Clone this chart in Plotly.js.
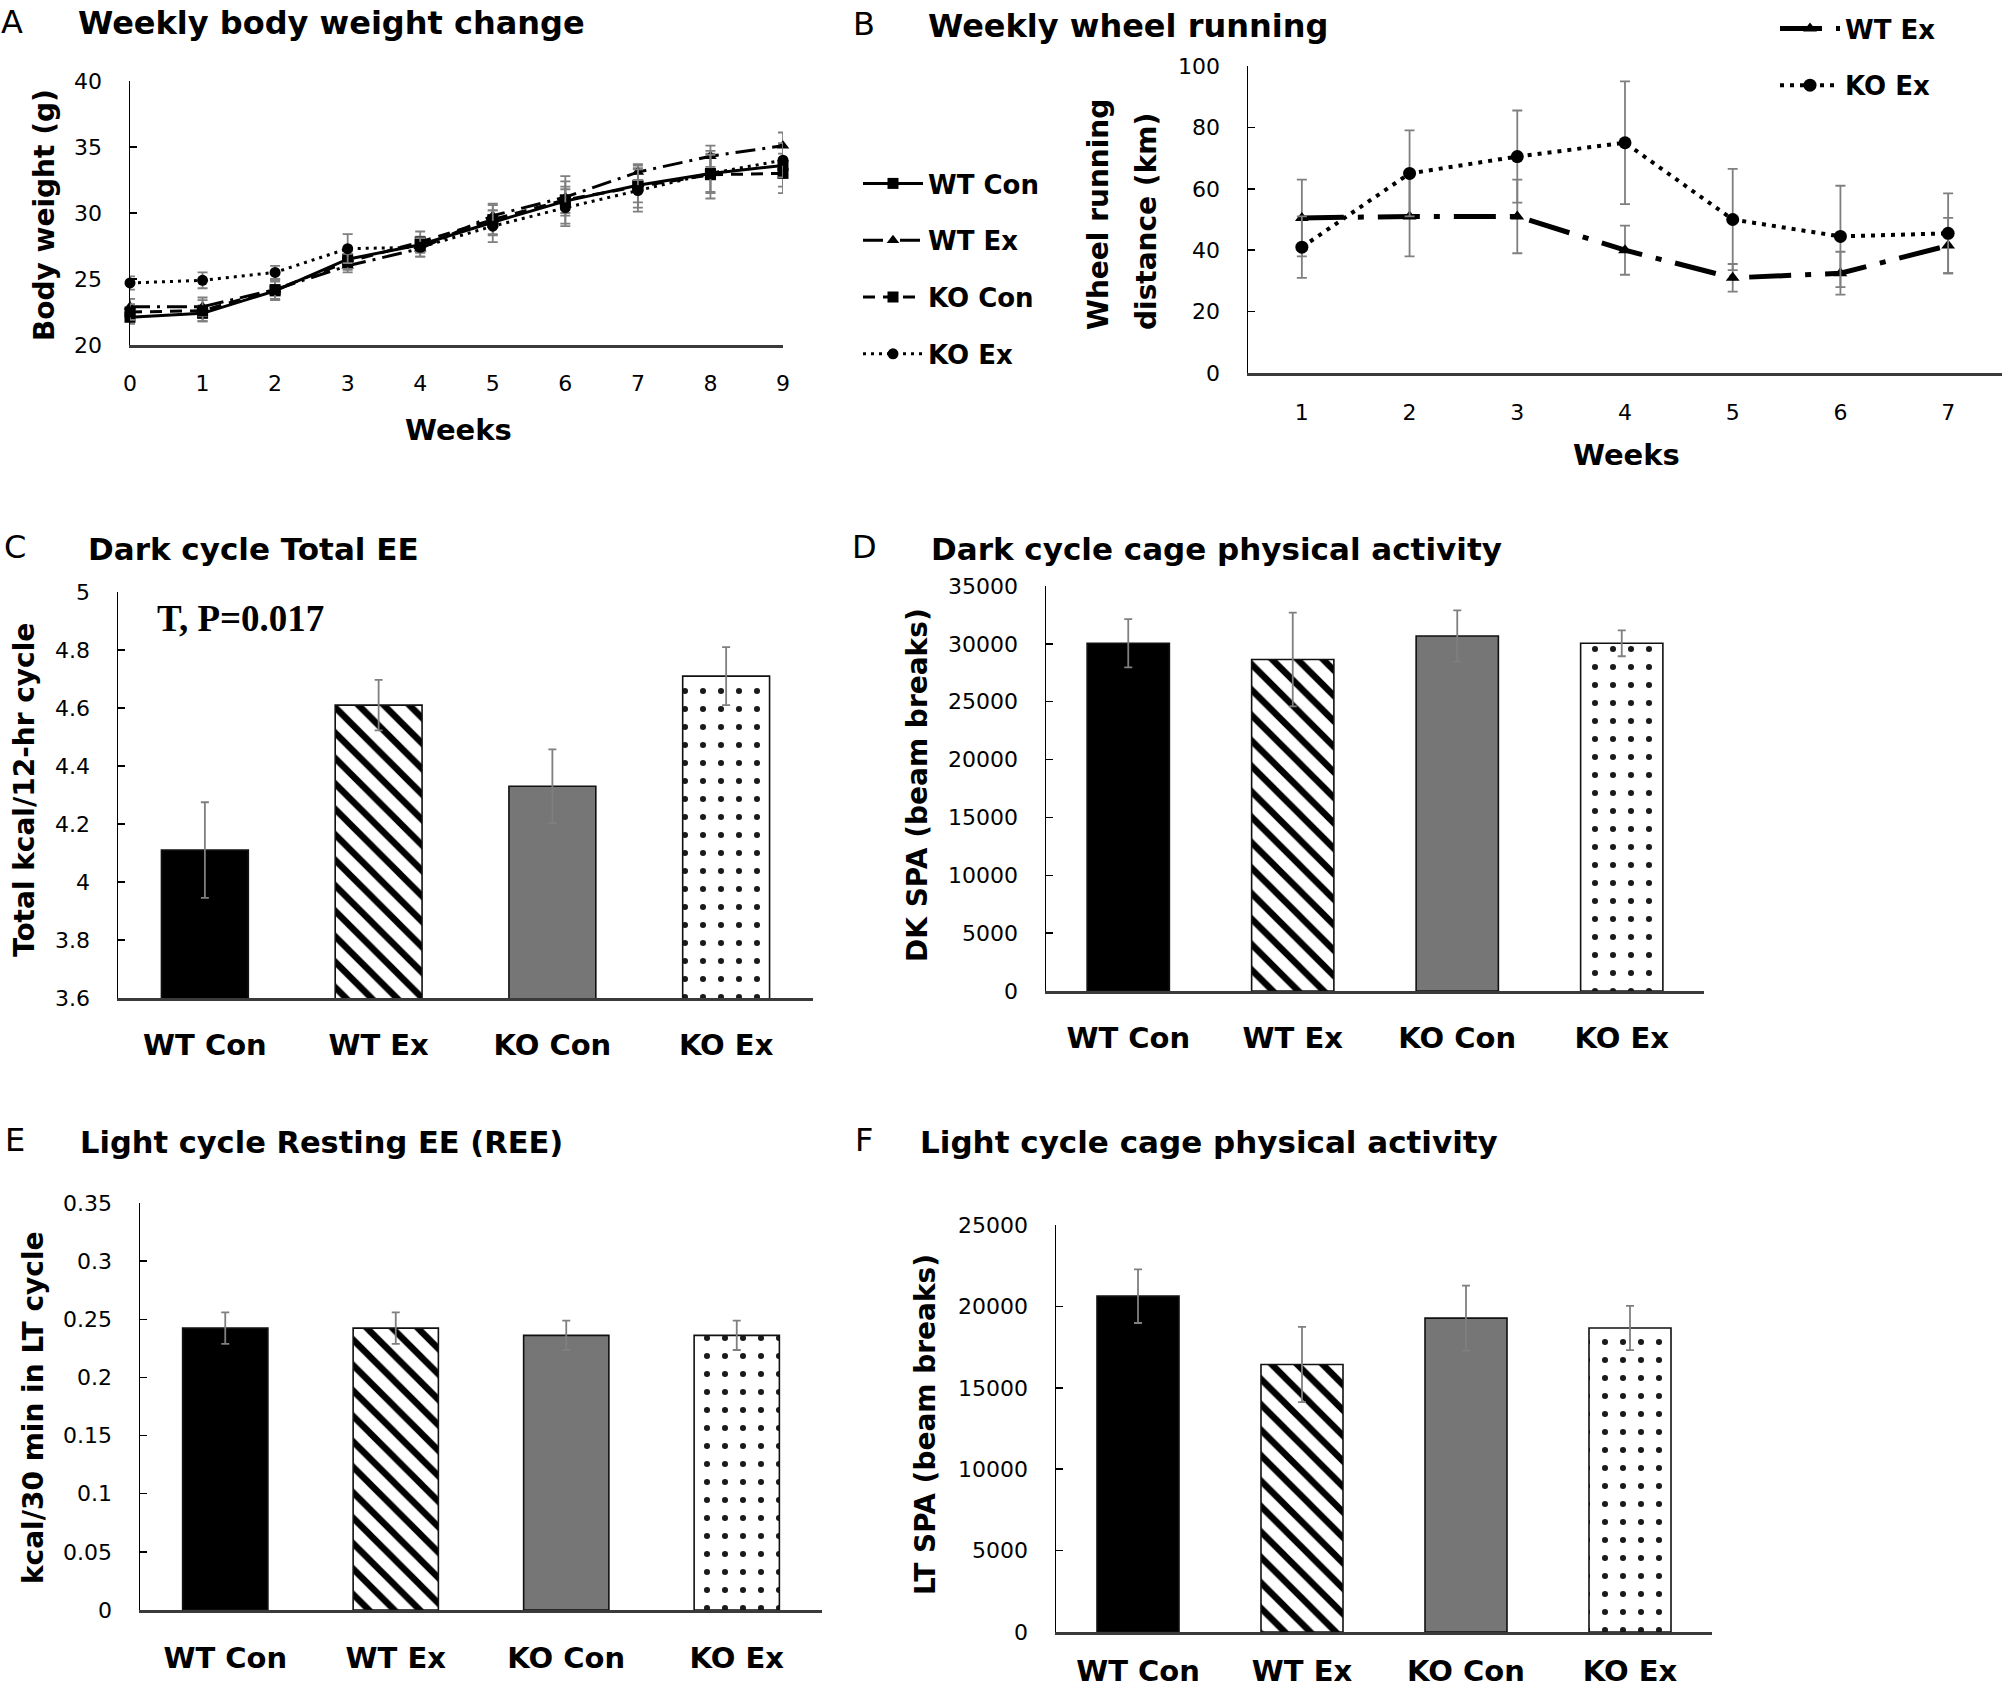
<!DOCTYPE html>
<html>
<head>
<meta charset="utf-8">
<script src="https://cdn.plot.ly/plotly-3.0.1.min.js"></script>
<style>
  html, body { margin: 0; padding: 0; background: #ffffff; }
  #plot { width: 2004px; height: 1692px; }
</style>
</head>
<body>
<div id="plot"></div>
<script>
// ---- data ----
const weeksA = [0, 1, 2, 3, 4, 5, 6, 7, 8, 9];
const wtConBW = [22.1, 22.4, 24.1, 26.5, 27.6, 29.3, 30.9, 32.1, 33.0, 33.6];
const wtConBWErr = [0.5, 0.6, 0.7, 0.6, 0.6, 0.9, 1.1, 1.3, 1.5, 1.6];
const wtExBW = [22.9, 22.9, 24.2, 26.0, 27.3, 29.8, 31.2, 33.1, 34.3, 35.1];
const wtExBWErr = [0.6, 0.7, 0.7, 0.5, 0.6, 0.8, 1.2, 0.6, 0.8, 1.0];
const koConBW = [22.5, 22.6, 24.2, 26.3, 27.8, 29.5, 31.0, 32.0, 32.9, 33.0];
const koConBWErr = [0.6, 0.8, 0.8, 0.6, 0.8, 1.2, 1.8, 1.6, 1.8, 1.5];
const koExBW = [24.7, 24.9, 25.5, 27.3, 27.4, 29.0, 30.4, 31.7, 33.0, 34.0];
const koExBWErr = [0.5, 0.6, 0.5, 1.1, 0.7, 1.2, 1.4, 1.6, 1.4, 1.3];

const weeksB = [1, 2, 3, 4, 5, 6, 7];
const wtExWheel = [50.5, 51, 51, 40, 31, 32.5, 41.5];
const wtExWheelErr = [12.5, 13, 12, 8, 4.5, 7, 9];
const koExWheel = [41, 65, 70.5, 75, 50, 44.5, 45.5];
const koExWheelErr = [10, 14, 15, 20, 16.5, 16.5, 13];

const groups = ["WT Con", "WT Ex", "KO Con", "KO Ex"];
const darkEE = [4.11, 4.61, 4.33, 4.71];
const darkEEErr = [0.165, 0.087, 0.127, 0.1];
const darkSPA = [30050, 28650, 30680, 30050];
const darkSPAErr = [2080, 4050, 2220, 1120];
const lightREE = [0.2424, 0.2424, 0.2362, 0.2362];
const lightREEErr = [0.0135, 0.0135, 0.0126, 0.0126];
const lightSPA = [20630, 16430, 19280, 18670];
const lightSPAErr = [1650, 2310, 2000, 1360];

// ---- look ----
const W = 2004, H = 1692;
const SANS = "DejaVu Sans, Verdana, sans-serif";
const tickFont = { family: SANS, size: 22, color: "#000" };
const catFont = { family: SANS, size: 29, color: "#000", weight: "bold" };
const errGray = "#7f7f7f";

// with per-point colours plotly uses marker.color as the pattern ink ("replace" mode),
// so the hatched bars get black ink on the white paper
const barColors = ["#000000", "#000000", "#767676", "#1a1a1a"];
const barShapes = ["", "\\", "", "."];
const barSizes = [10, 18, 10, 18];
const barSolidity = [0.3, 0.36, 0.3, 0.09];

function px(x) { return x / W; }
function py(y) { return 1 - y / H; }

function yAxis(top, bottom, anchor, range, dtick, fmt) {
    return {
        domain: [py(bottom), py(top)],
        anchor: anchor,
        range: range,
        tick0: range[0],
        dtick: dtick,
        tickformat: fmt || "",
        showline: true,
        linecolor: "#000",
        linewidth: 1.5,
        ticks: "inside",
        ticklen: 7,
        tickwidth: 1.5,
        tickcolor: "#000",
        showgrid: false,
        zeroline: false,
        tickfont: tickFont,
        ticklabelstandoff: 22
    };
}

function xAxis(left, right, anchor, extra) {
    return Object.assign({
        domain: [px(left), px(right)],
        anchor: anchor,
        showline: true,
        linecolor: "#3a3a3a",
        linewidth: 2.5,
        ticks: "",
        showgrid: false,
        zeroline: false
    }, extra);
}

function catAxis(left, right, anchor, standoff) {
    return xAxis(left, right, anchor, {
        type: "category",
        range: [-0.5, 3.5],
        tickfont: catFont,
        ticklabelstandoff: standoff
    });
}

function lineTrace(x, y, err, name, dash, width, symbol, size, xa, ya, legend) {
    return {
        type: "scatter",
        mode: "lines+markers",
        x: x,
        y: y,
        name: name,
        xaxis: xa,
        yaxis: ya,
        legend: legend,
        legendgroup: legend + name,
        cliponaxis: false,
        line: { color: "#000", width: width, dash: dash },
        marker: { color: "#000", symbol: symbol, size: size },
        error_y: { type: "data", array: err, visible: true, color: errGray, thickness: 1.8, width: 5 },
        hoverinfo: "skip"
    };
}

function barTrace(values, errs, xa, ya) {
    return {
        type: "bar",
        x: groups,
        y: values,
        xaxis: xa,
        yaxis: ya,
        width: 0.5,
        showlegend: false,
        marker: {
            color: barColors,
            line: { color: "#111", width: 1.6 },
            pattern: {
                shape: barShapes,
                size: barSizes,
                solidity: barSolidity,
                fillmode: "replace"
            }
        },
        error_y: { type: "data", array: errs, visible: true, color: errGray, thickness: 1.8, width: 4 },
        hoverinfo: "skip"
    };
}

const traces = [
    lineTrace(weeksA, wtConBW, wtConBWErr, "WT Con", "solid", 3, "square", 11, "x", "y", "legend"),
    lineTrace(weeksA, wtExBW, wtExBWErr, "WT Ex", "20px,7px,3px,7px", 3, "triangle-up", 11, "x", "y", "legend"),
    lineTrace(weeksA, koConBW, koConBWErr, "KO Con", "12px,8px", 3, "square", 11, "x", "y", "legend"),
    lineTrace(weeksA, koExBW, koExBWErr, "KO Ex", "3px,5px", 3, "circle", 11, "x", "y", "legend"),
    lineTrace(weeksB, wtExWheel, wtExWheelErr, "WT Ex", "42px,14px,6px,14px", 5, "triangle-up", 12, "x2", "y2", "legend2"),
    lineTrace(weeksB, koExWheel, koExWheelErr, "KO Ex", "4px,6px", 4, "circle", 13, "x2", "y2", "legend2"),
    barTrace(darkEE, darkEEErr, "x3", "y3"),
    barTrace(darkSPA, darkSPAErr, "x4", "y4"),
    barTrace(lightREE, lightREEErr, "x5", "y5"),
    barTrace(lightSPA, lightSPAErr, "x6", "y6")
];

function note(text, x, y, size, opts) {
    return Object.assign({
        text: text,
        xref: "paper",
        yref: "paper",
        x: px(x),
        y: py(y),
        xanchor: "center",
        yanchor: "middle",
        showarrow: false,
        font: { family: SANS, size: size, color: "#000", weight: "bold" }
    }, opts || {});
}

function letter(text, x, y) {
    return note(text, x, y, 32, { font: { family: SANS, size: 32, color: "#000" } });
}

function title(text, x, y, size) {
    return note(text, x, y, size, { xanchor: "left" });
}

function yTitle(text, x, y) {
    return note(text, x, y, 28, { textangle: -90 });
}

const annotations = [
    letter("A", 12, 22),
    title("Weekly body weight change", 76, 23, 32),
    yTitle("Body weight (g)", 44, 215),
    note("Weeks", 458, 430, 29),

    letter("B", 864, 24),
    title("Weekly wheel running", 926, 26, 32),
    yTitle("Wheel running", 1098, 215),
    yTitle("distance (km)", 1146, 222),
    note("Weeks", 1626, 455, 29),

    letter("C", 15, 547),
    title("Dark cycle Total EE", 86, 549, 31),
    yTitle("Total kcal/12-hr cycle", 25, 790),
    note("T, P=0.017", 155, 618, 37, {
        xanchor: "left",
        font: { family: "Liberation Serif, Times New Roman, serif", size: 37, color: "#000", weight: "bold" }
    }),

    letter("D", 864, 547),
    title("Dark cycle cage physical activity", 929, 549, 31),
    yTitle("DK SPA (beam breaks)", 918, 785),

    letter("E", 15, 1140),
    title("Light cycle Resting EE (REE)", 78, 1142, 30.5),
    yTitle("kcal/30 min in LT cycle", 33, 1408),

    letter("F", 864, 1140),
    title("Light cycle cage physical activity", 918, 1142, 31),
    yTitle("LT SPA (beam breaks)", 925, 1425)
];

const legendFont = { family: SANS, size: 26, color: "#000", weight: "bold" };

const layout = {
    width: W,
    height: H,
    margin: { l: 0, r: 0, t: 0, b: 0 },
    paper_bgcolor: "#ffffff",
    plot_bgcolor: "#ffffff",
    showlegend: true,
    legend: {
        x: px(858), y: py(160), xanchor: "left", yanchor: "top",
        font: legendFont, itemwidth: 60, tracegroupgap: 20,
        bgcolor: "rgba(0,0,0,0)"
    },
    legend2: {
        x: px(1775), y: py(5), xanchor: "left", yanchor: "top",
        font: legendFont, itemwidth: 60, tracegroupgap: 20,
        bgcolor: "rgba(0,0,0,0)"
    },
    xaxis: xAxis(130, 783, "y", {
        range: [0, 9], tickvals: weeksA, tickfont: tickFont, ticklabelstandoff: 17
    }),
    yaxis: yAxis(81, 345, "x", [20, 40], 5),
    xaxis2: xAxis(1248, 2002, "y2", {
        range: [0.5, 7.5], tickvals: weeksB, tickfont: tickFont, ticklabelstandoff: 18
    }),
    yaxis2: yAxis(66, 373, "x2", [0, 100], 20),
    xaxis3: catAxis(118, 813, "y3", 20),
    yaxis3: yAxis(592, 998, "x3", [3.6, 5], 0.2),
    xaxis4: catAxis(1046, 1704, "y4", 20),
    yaxis4: yAxis(586, 991, "x4", [0, 35000], 5000, "d"),
    xaxis5: catAxis(140, 822, "y5", 21),
    yaxis5: yAxis(1203, 1610, "x5", [0, 0.35], 0.05),
    xaxis6: catAxis(1056, 1712, "y6", 12),
    yaxis6: yAxis(1225, 1632, "x6", [0, 25000], 5000, "d"),
    annotations: annotations
};

Plotly.newPlot("plot", traces, layout, { displayModeBar: false, staticPlot: true });
</script>
</body>
</html>
